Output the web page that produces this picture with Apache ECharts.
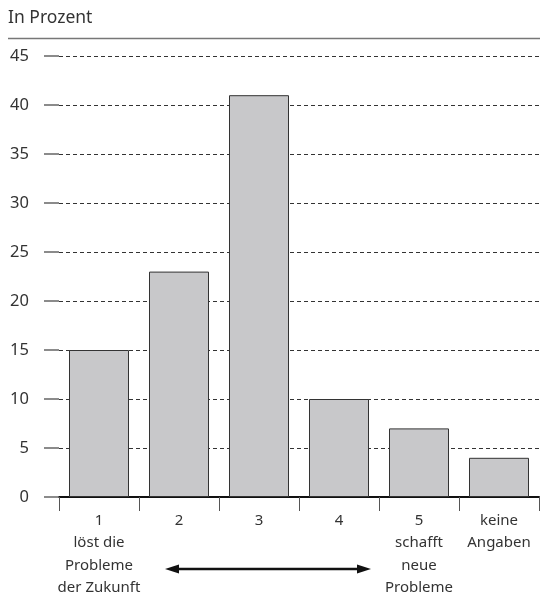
<!DOCTYPE html>
<html>
<head>
<meta charset="utf-8">
<script src="https://cdn.jsdelivr.net/npm/echarts@6/dist/echarts.min.js"></script>
<style>html,body{margin:0;padding:0;background:#fff}#c{width:540px;height:599px}</style>
</head>
<body>
<div id="c"></div>
<script>
const categories = ['1\nlöst die\nProbleme\nder Zukunft', '2', '3', '4', '5\nschafft\nneue\nProbleme', 'keine\nAngaben'];
const values = [15, 23, 41, 10, 7, 4];
const titleText = 'In Prozent';

const chart = echarts.init(document.getElementById('c'), null, {renderer: 'canvas'});
const font = '"Noto Sans", sans-serif';
chart.setOption({
  animation: false,
  grid: {left: 59, right: 1, top: 56, bottom: 100},
  xAxis: {
    type: 'category',
    data: categories,
    boundaryGap: true,
    axisLine: {lineStyle: {color: '#111', width: 2}},
    axisTick: {show: true, length: 14, lineStyle: {color: '#555', width: 1}},
    axisLabel: {color: '#333', fontSize: 15, fontFamily: font, lineHeight: 22.5, margin: 12, interval: 0}
  },
  yAxis: {
    type: 'value',
    min: 0, max: 45, interval: 5,
    axisLine: {show: false},
    axisTick: {show: true, length: 15, lineStyle: {color: '#666', width: 1.5}},
    axisLabel: {color: '#333', fontSize: 16.5, fontFamily: font, margin: 30},
    splitLine: {show: true, lineStyle: {color: '#333', type: [4, 3], width: 1}}
  },
  series: [{
    type: 'bar',
    data: values,
    barWidth: 60,
    itemStyle: {color: '#c8c8ca', borderColor: '#333', borderWidth: 1}
  }],
  graphic: [
    {type: 'text', left: 8, top: 9, style: {text: titleText, fill: '#333', font: '17.5px "Noto Sans", sans-serif'}},
    {type: 'line', shape: {x1: 8, y1: 38.5, x2: 540, y2: 38.5}, style: {stroke: '#777', lineWidth: 1.5}},
    {type: 'line', shape: {x1: 176, y1: 569, x2: 360, y2: 569}, style: {stroke: '#111', lineWidth: 2.5}},
    {type: 'polygon', shape: {points: [[165, 569], [179, 564.5], [179, 573.5]]}, style: {fill: '#111'}},
    {type: 'polygon', shape: {points: [[371, 569], [357, 564.5], [357, 573.5]]}, style: {fill: '#111'}}
  ]
});
</script>
</body>
</html>
